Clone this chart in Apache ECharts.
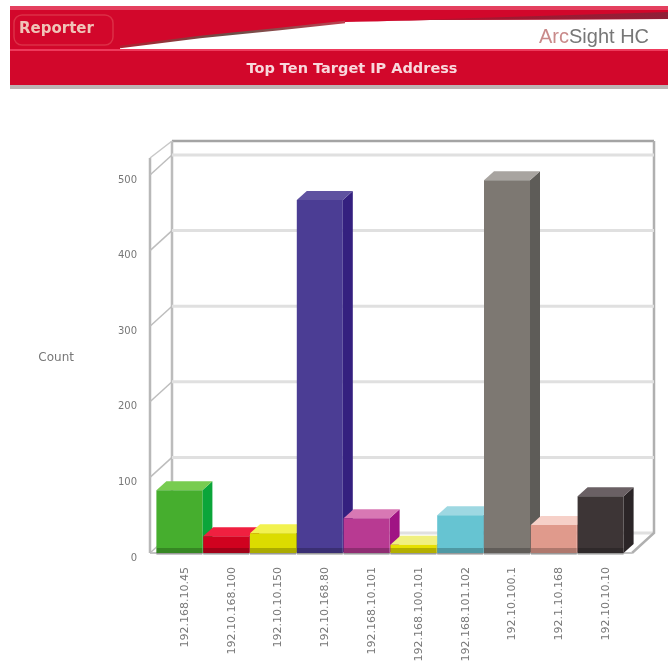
<!DOCTYPE html>
<html><head><meta charset="utf-8">
<style>html,body{margin:0;padding:0;background:#fff}#c{width:670px;height:669px}</style>
<script src="https://cdn.jsdelivr.net/npm/echarts@6/dist/echarts.min.js"></script>
</head><body><div id="c"></div>
<script>
const categories=['192.168.10.45','192.10.168.100','192.10.10.150','192.10.168.80','192.168.10.101','192.168.100.101','192.168.101.102','192.10.100.1','192.1.10.168','192.10.10.10'];
const counts=[83,22,26,467,46,11,50,493,37,75];
const colors=['#46ae2e','#d0021f','#dcdc00','#4b3d94','#b83a92','#e6e000','#66c4d2','#7d7872','#e09a8c','#3d3536'];
const sides=['#0ba53a','#a8101c','#b5b500','#34207f','#a01484','#b8b000','#4a9aa8','#5e5c58','#c4827a','#2b2527'];
const tops=['#78cc50','#f02040','#f2f250','#5f52a0','#d878b4','#f0f080','#9ed8e2','#a8a4a0','#f6d0c8','#6a6064'];
const yTicks=[0,100,200,300,400,500];
const DX=22,DY=-20,BX=10,BY=-9;
const c=echarts.init(document.getElementById('c'));
function wall(p,api){
  const v=api.value(0),y=api.coord([0,v])[1];
  const L=150,R=632,g=[];
  g.push({type:'line',shape:{x1:L,y1:y,x2:L+DX,y2:y+DY},style:{stroke:'#bdbdbd',lineWidth:1.5}});
  g.push({type:'line',shape:{x1:L+DX,y1:y+DY,x2:R+DX,y2:y+DY},style:{stroke:'#e0e0e0',lineWidth:3}});
  if(v===0){
    const T=141;
    g.push({type:'polyline',shape:{points:[[L+DX,T],[R+DX,T]]},style:{stroke:'#a4a4a4',lineWidth:2.5}});
    g.push({type:'polyline',shape:{points:[[L+DX,y+DY],[L+DX,T]]},style:{stroke:'#bcbcbc',lineWidth:2.5}});
    g.push({type:'polyline',shape:{points:[[R+DX,T],[R+DX,y+DY],[R,y]]},style:{fill:'none',stroke:'#b0b0b0',lineWidth:2.5}});
    g.push({type:'line',shape:{x1:L,y1:y,x2:R,y2:y},style:{stroke:'#c4c4c4',lineWidth:2}});
    g.push({type:'line',shape:{x1:L,y1:y,x2:L,y2:158},style:{stroke:'#b8b8b8',lineWidth:2.5}});
    g.push({type:'line',shape:{x1:L,y1:158,x2:L+DX,y2:T},style:{stroke:'#c8c8c8',lineWidth:1.5}});
  }
  return {type:'group',children:g};
}
function bar(p,api){
  const i=api.value(0),[cx,y]=api.coord([i,api.value(1)]),b=api.coord([i,0])[1];
  const w=46,l=cx-w/2,r=cx+w/2,idx=p.dataIndex;
  return {type:'group',children:[
    {type:'polygon',shape:{points:[[r,y],[r+BX,y+BY],[r+BX,b+BY],[r,b]]},style:{fill:sides[idx]}},
    {type:'polygon',shape:{points:[[l,y],[l+BX,y+BY],[r+BX,y+BY],[r,y]]},style:{fill:tops[idx]}},
    {type:'rect',shape:{x:l,y:y,width:w,height:b-y},style:{fill:colors[idx]}},
    {type:'rect',shape:{x:l,y:b-5,width:w,height:7},style:{fill:'#000',opacity:.22}}
  ]};
}
const edge=(a,b,c2)=>({type:'linear',x:0,y:0,x2:1,y2:0,colorStops:[{offset:0,color:a},{offset:.5,color:b},{offset:1,color:c2}]});
c.setOption({
  animation:false,
  grid:{left:156,right:46,top:175,height:378},
  xAxis:{type:'category',data:categories,axisLine:{show:false},axisTick:{show:false},
    axisLabel:{interval:0,rotate:90,margin:14,fontSize:11,color:'#777',verticalAlign:'top',fontFamily:'"DejaVu Sans",sans-serif'}},
  yAxis:{type:'value',min:0,max:500,interval:100,offset:6,axisLine:{show:false},axisTick:{show:false},splitLine:{show:false},
    axisLabel:{fontSize:10,margin:13,color:'#777',verticalAlign:'top',fontFamily:'"DejaVu Sans",sans-serif'},
    name:'Count',nameLocation:'middle',nameRotate:0,nameGap:76,nameTextStyle:{fontSize:12,color:'#777',verticalAlign:'bottom',fontFamily:'"DejaVu Sans",sans-serif'}},
  series:[
    {type:'custom',coordinateSystem:'cartesian2d',silent:true,clip:false,z:1,data:yTicks.map(v=>[v]),encode:{y:0,x:[]},renderItem:wall},
    {type:'custom',coordinateSystem:'cartesian2d',silent:true,clip:false,z:2,data:counts.map((v,i)=>[i,v]),encode:{x:0,y:1},renderItem:bar}
  ],
  graphic:[
    {type:'rect',shape:{x:10,y:6,width:658,height:79},style:{fill:'#d2072b'}},
    {type:'rect',shape:{x:10,y:6,width:658,height:4},style:{fill:'#e4405f'}},
    {type:'rect',shape:{x:10,y:85,width:658,height:4},style:{fill:'#bdb4b4'}},
    {type:'polygon',shape:{points:[[120,47],[200,37],[280,29],[345,22],[430,20],[668,19],[668,49],[120,49]]},style:{fill:'#ffffff'}},
    {type:'polyline',shape:{points:[[120,47],[200,37],[280,29],[345,22]]},style:{fill:'none',lineWidth:2.5,stroke:edge('#b02030','#6a5048','#c04050')}},
    {type:'polygon',shape:{points:[[345,22],[668,12],[668,19],[430,20]]},style:{fill:edge('#d2072b','#a01830','#902038')}},
    {type:'rect',shape:{x:10,y:49,width:658,height:2},style:{fill:'#ee3a5c'}},
    {type:'rect',shape:{x:14,y:15,width:99,height:30,r:8},style:{fill:'none',stroke:'#e4505c',lineWidth:1.5,opacity:.55}},
    {type:'text',style:{x:19,y:29,text:'Reporter',fill:'#f0c4b8',font:'bold 15px "DejaVu Sans"',textVerticalAlign:'middle'}},
    {type:'text',style:{x:539,y:37,text:'Arc',fill:'#c98a8a',font:'20px "Liberation Sans"',textVerticalAlign:'middle'}},
    {type:'text',style:{x:569,y:37,text:'Sight HC',fill:'#777',font:'20px "Liberation Sans"',textVerticalAlign:'middle'}},
    {type:'text',style:{x:352,y:69,text:'Top Ten Target IP Address',fill:'#f8d8dc',font:'bold 14.5px "DejaVu Sans"',textAlign:'center',textVerticalAlign:'middle'}}
  ]
});
</script></body></html>
